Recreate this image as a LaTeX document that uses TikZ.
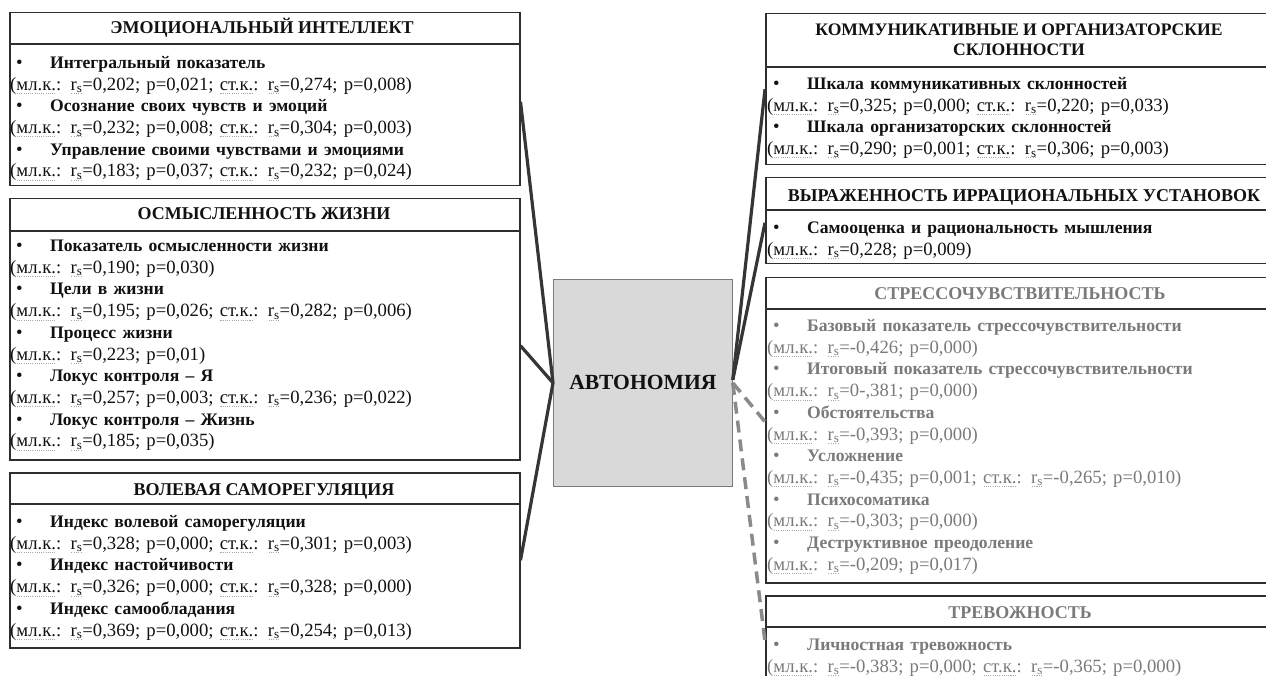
\documentclass[tikz,border=0pt]{standalone}
\usepackage{fontspec}
\setmainfont{Liberation Serif}
\usetikzlibrary{calc}
\definecolor{ink}{HTML}{111111}
\definecolor{frame}{HTML}{2E2E2E}
\definecolor{greytxt}{HTML}{7A7A7A}
\definecolor{sqcol}{HTML}{A8A8A8}
\definecolor{centerfill}{HTML}{D9D9D9}
\definecolor{linkcol}{HTML}{353535}
\definecolor{dashcol}{HTML}{8A8A8A}
\newsavebox\sqbox
\newcommand\sq[1]{\sbox\sqbox{#1}\leavevmode\rlap{\hbox to\wd\sqbox{\color{sqcol}\xleaders\hbox to 2.2pt{\hss\rule[-3.6pt]{1.1pt}{0.7pt}\hss}\hfill}}\usebox\sqbox}
\newcommand\mlk{\sq{мл.к.}}
\newcommand\stk{\sq{ст.к.}}
\newcommand\rsub{\sq{r\textsubscript{s}}}
\newcommand\itm[1]{\makebox[40pt][l]{\hspace{6pt}•}{\fontsize{17.6}{21.7}\selectfont\bfseries #1}}
\tikzset{
  box/.style={draw=frame, line width=1.5pt, inner sep=0pt, anchor=north west},
  sepline/.style={draw=frame, line width=1.5pt},
  head/.style={font=\fontsize{18}{20.5}\selectfont\bfseries, anchor=base, inner sep=0pt, align=center, text=ink},
  body/.style={font=\fontsize{18.7}{21.7}\selectfont, anchor=base west, inner sep=0pt, text width=505pt, align=left, text=ink},
  solidlink/.style={draw=linkcol, line width=3.2pt},
  dashlink/.style={draw=dashcol, line width=3.5pt, dash pattern=on 12pt off 7pt},
}
\begin{document}
\begin{tikzpicture}[x=1pt,y=-1pt]
\useasboundingbox (0,0) rectangle (1266,676);
% ---------- left boxes
\node[box, minimum width=510pt, minimum height=173pt] (L1) at (9,12) {};
\draw[sepline] (L1.west |- 0,44) -- (L1.east |- 0,44);
\node[head] (L1h) at (262,34) {ЭМОЦИОНАЛЬНЫЙ ИНТЕЛЛЕКТ};
\node[body] (L1b) at (10,68.5) {\itm{Интегральный показатель}\\
(\mlk: \rsub=0,202; p=0,021; \stk: \rsub=0,274; p=0,008)\\
\itm{Осознание своих чувств и эмоций}\\
(\mlk: \rsub=0,232; p=0,008; \stk: \rsub=0,304; p=0,003)\\
\itm{Управление своими чувствами и эмоциями}\\
(\mlk: \rsub=0,183; p=0,037; \stk: \rsub=0,232; p=0,024)};

\node[box, minimum width=510pt, minimum height=261pt] (L2) at (9,198) {};
\draw[sepline] (L2.west |- 0,231) -- (L2.east |- 0,231);
\node[head] (L2h) at (264,220) {ОСМЫСЛЕННОСТЬ ЖИЗНИ};
\node[body] (L2b) at (10,251.5) {\itm{Показатель осмысленности жизни}\\
(\mlk: \rsub=0,190; p=0,030)\\
\itm{Цели в жизни}\\
(\mlk: \rsub=0,195; p=0,026; \stk: \rsub=0,282; p=0,006)\\
\itm{Процесс жизни}\\
(\mlk: \rsub=0,223; p=0,01)\\
\itm{Локус контроля – Я}\\
(\mlk: \rsub=0,257; p=0,003; \stk: \rsub=0,236; p=0,022)\\
\itm{Локус контроля – Жизнь}\\
(\mlk: \rsub=0,185; p=0,035)};

\node[box, minimum width=510pt, minimum height=175pt] (L3) at (9,472) {};
\draw[sepline] (L3.west |- 0,504) -- (L3.east |- 0,504);
\node[head] (L3h) at (264,495) {ВОЛЕВАЯ САМОРЕГУЛЯЦИЯ};
\node[body] (L3b) at (10,527.5) {\itm{Индекс волевой саморегуляции}\\
(\mlk: \rsub=0,328; p=0,000; \stk: \rsub=0,301; p=0,003)\\
\itm{Индекс настойчивости}\\
(\mlk: \rsub=0,326; p=0,000; \stk: \rsub=0,328; p=0,000)\\
\itm{Индекс самообладания}\\
(\mlk: \rsub=0,369; p=0,000; \stk: \rsub=0,254; p=0,013)};

% ---------- centre
\node[draw=greytxt, line width=0.8pt, fill=centerfill, minimum width=179pt, minimum height=207pt, anchor=north west, inner sep=0pt,
      font=\fontsize{21.6}{26}\selectfont\bfseries, text=ink] (A) at (553,279) {АВТОНОМИЯ};

% ---------- right boxes
\node[box, minimum width=525pt, minimum height=151pt] (R1) at (765,13) {};
\draw[sepline] (R1.west |- 0,67) -- (R1.east |- 0,67);
\node[head, font=\fontsize{17.6}{20.5}\selectfont\bfseries] (R1h) at (1019,56) {КОММУНИКАТИВНЫЕ И ОРГАНИЗАТОРСКИЕ\\СКЛОННОСТИ};
\node[body] (R1b) at (767,89.5) {\itm{Шкала коммуникативных склонностей}\\
(\mlk: \rsub=0,325; p=0,000; \stk: \rsub=0,220; p=0,033)\\
\itm{Шкала организаторских склонностей}\\
(\mlk: \rsub=0,290; p=0,001; \stk: \rsub=0,306; p=0,003)};

\node[box, minimum width=525pt, minimum height=86pt] (R2) at (765,177) {};
\draw[sepline] (R2.west |- 0,210) -- (R2.east |- 0,210);
\node[head] (R2h) at (1024,202) {ВЫРАЖЕННОСТЬ ИРРАЦИОНАЛЬНЫХ УСТАНОВОК};
\node[body] (R2b) at (767,233.5) {\itm{Самооценка и рациональность мышления}\\
(\mlk: \rsub=0,228; p=0,009)};

\node[box, minimum width=525pt, minimum height=305pt] (R3) at (765,277) {};
\draw[sepline] (R3.west |- 0,309) -- (R3.east |- 0,309);
\node[head, text=greytxt] (R3h) at (1020,300) {СТРЕССОЧУВСТВИТЕЛЬНОСТЬ};
\node[body, text=greytxt] (R3b) at (767,331.5) {\itm{Базовый показатель стрессочувствительности}\\
(\mlk: \rsub=-0,426; p=0,000)\\
\itm{Итоговый показатель стрессочувствительности}\\
(\mlk: \rsub=0-,381; p=0,000)\\
\itm{Обстоятельства}\\
(\mlk: \rsub=-0,393; p=0,000)\\
\itm{Усложнение}\\
(\mlk: \rsub=-0,435; p=0,001; \stk: \rsub=-0,265; p=0,010)\\
\itm{Психосоматика}\\
(\mlk: \rsub=-0,303; p=0,000)\\
\itm{Деструктивное преодоление}\\
(\mlk: \rsub=-0,209; p=0,017)};

\node[box, minimum width=525pt, minimum height=95pt] (R4) at (765,595) {};
\draw[sepline] (R4.west |- 0,627) -- (R4.east |- 0,627);
\node[head, text=greytxt] (R4h) at (1020,618) {ТРЕВОЖНОСТЬ};
\node[body, text=greytxt] (R4b) at (767,650.5) {\itm{Личностная тревожность}\\
(\mlk: \rsub=-0,383; p=0,000; \stk: \rsub=-0,365; p=0,000)};

% ---------- connectors
\draw[solidlink] (A.west) -- ([yshift=-2.5pt]L1.east);
\draw[solidlink] (A.west) -- ([yshift=-16.5pt]L2.east);
\draw[solidlink] (A.west) -- (L3.east);
\draw[solidlink] ([yshift=3pt]A.east) -- (R1.west);
\draw[solidlink] ([yshift=3pt]A.east) -- ([yshift=-2pt]R2.west);
\draw[dashlink] (A.east) -- ([yshift=8.5pt]R3.west);
\draw[dashlink] (A.east) -- ([yshift=2pt]R4.west);
\end{tikzpicture}
\end{document}
